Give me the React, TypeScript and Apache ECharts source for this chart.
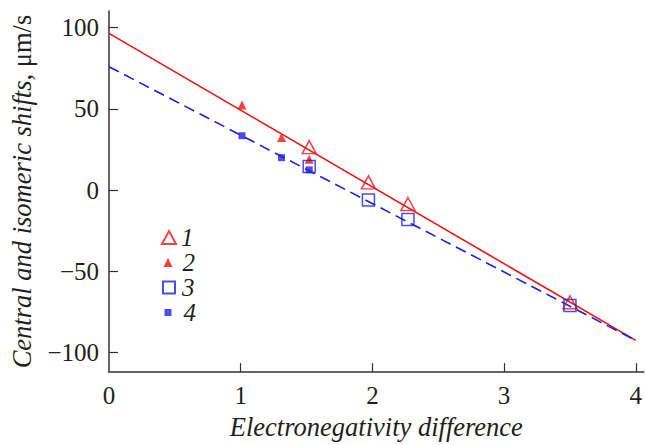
import React, { useEffect, useRef } from "react";
import * as echarts from "echarts";

// Data
const openTriangles: [number, number][] = [
  [1.52, 26.5],
  [1.97, 4.8],
  [2.27, -8.5],
  [3.5, -69],
];
const filledTriangles: [number, number][] = [
  [1.01, 52.5],
  [1.31, 32.5],
  [1.52, 19],
];
const openSquares: [number, number][] = [
  [1.52, 14.5],
  [1.97, -6],
  [2.27, -18],
  [3.5, -71],
];
const filledSquares: [number, number][] = [
  [1.01, 33.5],
  [1.31, 20],
  [1.52, 12.5],
];
const redFit: [number, number][] = [
  [0, 96.5],
  [4, -92.5],
];
const blueFit: [number, number][] = [
  [0, 76],
  [4, -92.5],
];
const xTicks = [0, 1, 2, 3, 4];
const yTicks = [-100, -50, 0, 50, 100];
const legendNames = ["1", "2", "3", "4"];

const RED = "#f01414";
const BLUE = "#1f1fe0";
const TXT = "#231f20";
const FONT = "Liberation Serif, Times New Roman, serif";

export default function App() {
  const ref = useRef<HTMLDivElement>(null);
  useEffect(() => {
    if (!ref.current) return;
    const chart = echarts.init(ref.current, undefined, { renderer: "svg" });
    const legendBase = {
      orient: "vertical",
      itemGap: 0,
      selectedMode: false,
      textStyle: { fontFamily: FONT, fontSize: 25, fontStyle: "italic", color: TXT },
    };
    chart.setOption({
      animation: false,
      backgroundColor: "#ffffff",
      grid: { left: 107, right: 0, top: 11, bottom: 65, containLabel: false },
      xAxis: {
        type: "value",
        min: 0,
        max: 4.06,
        splitLine: { show: false },
        axisLine: { show: true, onZero: false, lineStyle: { color: "#333", width: 1.5 } },
        axisTick: { show: true, inside: true, length: 9, customValues: xTicks.slice(1), lineStyle: { color: "#333", width: 1.2 } },
        axisLabel: { customValues: xTicks, margin: 11, fontFamily: FONT, fontSize: 25, color: TXT },
        name: "Electronegativity difference",
        nameLocation: "middle",
        nameGap: 40,
        nameTextStyle: { fontFamily: FONT, fontSize: 26.5, fontStyle: "italic", color: TXT },
      },
      yAxis: {
        type: "value",
        min: -112,
        max: 110.3,
        splitLine: { show: false },
        axisLine: { show: true, onZero: false, lineStyle: { color: "#333", width: 1.5 } },
        axisTick: { show: true, inside: true, length: 9, customValues: yTicks, lineStyle: { color: "#333", width: 1.2 } },
        axisLabel: {
          customValues: yTicks,
          margin: 10,
          fontFamily: FONT,
          fontSize: 25,
          color: TXT,
          formatter: (v: number) => (v < 0 ? "\u2212" + Math.abs(v) : String(v)),
        },
        name: "{i|Central and isomeric shifts}{n|, \u03bcm/s}",
        nameLocation: "middle",
        nameGap: 74,
        nameTextStyle: {
          color: TXT,
          rich: {
            i: { fontFamily: FONT, fontSize: 26.5, fontStyle: "italic", color: TXT },
            n: { fontFamily: FONT, fontSize: 26.5, color: TXT },
          },
        },
      },
      legend: [
        { ...legendBase, data: ["1"], left: 156, top: 220, itemWidth: 14, itemHeight: 13, textStyle: { ...legendBase.textStyle, padding: [0, 0, 0, 0] } },
        { ...legendBase, data: ["2"], left: 158.5, top: 245, itemWidth: 9, itemHeight: 9, textStyle: { ...legendBase.textStyle, padding: [0, 0, 0, 5] } },
        { ...legendBase, data: ["3"], left: 157, top: 270, itemWidth: 12, itemHeight: 12, textStyle: { ...legendBase.textStyle, padding: [0, 0, 0, 2] } },
        { ...legendBase, data: ["4"], left: 159.5, top: 295, itemWidth: 7, itemHeight: 7, textStyle: { ...legendBase.textStyle, padding: [0, 0, 0, 7] } },
      ],
      series: [
        {
          type: "line",
          data: redFit,
          showSymbol: false,
          symbol: "none",
          lineStyle: { color: RED, width: 1.6 },
          silent: true,
          z: 1,
        },
        {
          type: "line",
          data: blueFit,
          showSymbol: false,
          symbol: "none",
          lineStyle: { color: BLUE, width: 1.6, type: [11, 6] },
          silent: true,
          z: 1,
        },
        {
          name: legendNames[0],
          type: "scatter",
          data: openTriangles,
          symbol: "triangle",
          symbolSize: [14, 13],
          itemStyle: { color: "rgba(255,255,255,0)", borderColor: RED, borderWidth: 1.5 },
          z: 3,
        },
        {
          name: legendNames[1],
          type: "scatter",
          data: filledTriangles,
          symbol: "triangle",
          symbolSize: [9, 9],
          itemStyle: { color: RED },
          z: 3,
        },
        {
          name: legendNames[2],
          type: "scatter",
          data: openSquares,
          symbol: "rect",
          symbolSize: 12,
          itemStyle: { color: "rgba(255,255,255,0)", borderColor: BLUE, borderWidth: 1.5 },
          z: 3,
        },
        {
          name: legendNames[3],
          type: "scatter",
          data: filledSquares,
          symbol: "rect",
          symbolSize: 7,
          itemStyle: { color: BLUE },
          z: 3,
        },
      ],
    });
    return () => chart.dispose();
  }, []);
  return <div ref={ref} style={{ width: 645, height: 445, position: "fixed", left: 0, top: 0 }} />;
}
